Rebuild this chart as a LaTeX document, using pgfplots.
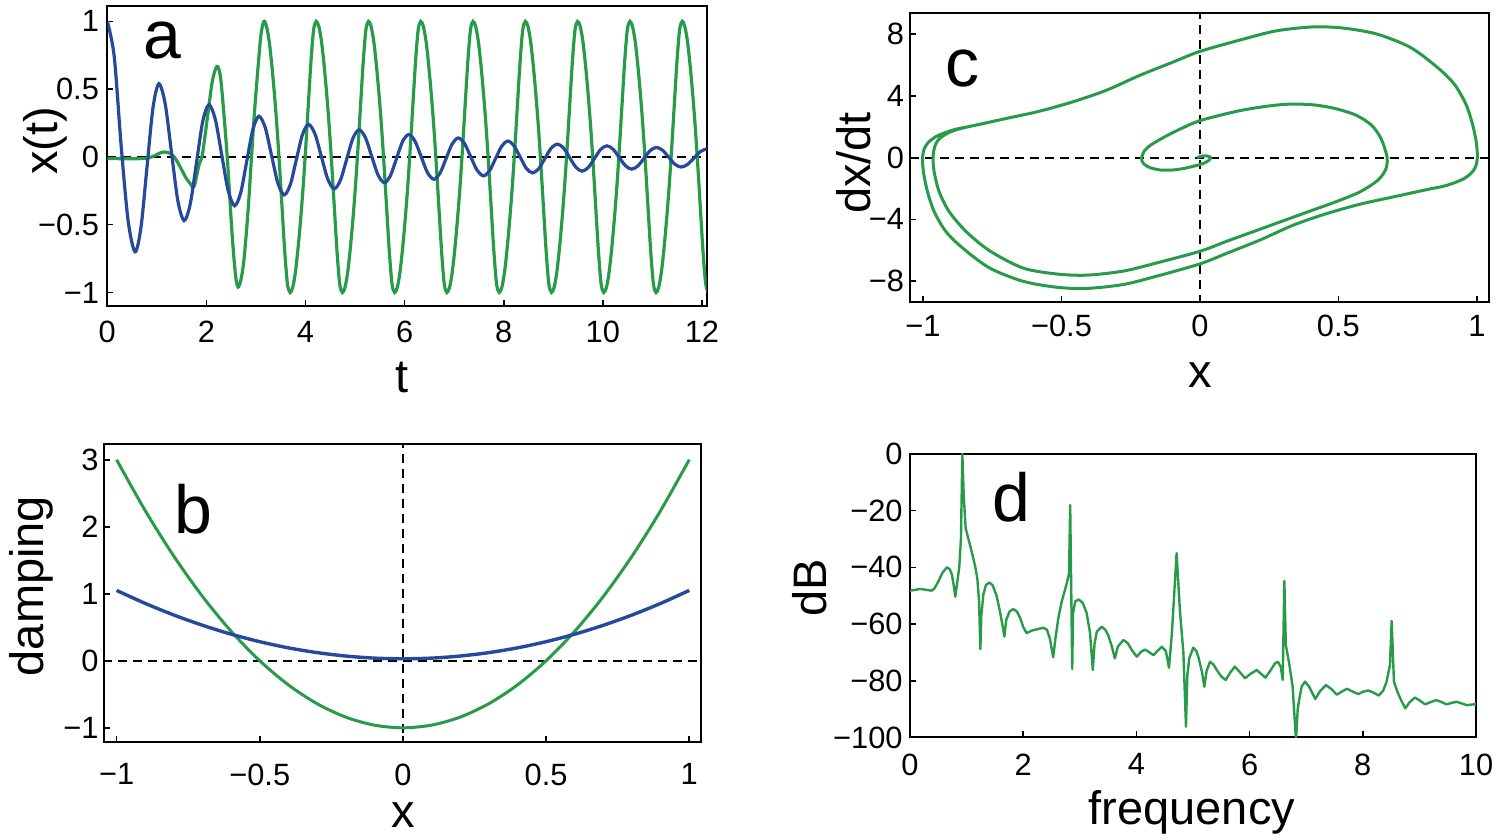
\documentclass[border=0pt]{standalone}
\usepackage{fontspec}
\setmainfont{Liberation Sans}
\usepackage{pgfplots}
\pgfplotsset{compat=1.18}
\definecolor{vgreen}{RGB}{40,155,75}
\definecolor{vblue}{RGB}{38,73,155}
\pgfplotsset{
 panel/.style={
   scale only axis,
   anchor=south west,
   axis line style={line width=1pt},
   tick align=inside,
   tickpos=left,
   major tick length=3pt,
   minor tick num=0,
   tick style={line width=0.8pt, black},
   tick label style={font=\fontsize{15.4}{18}\selectfont, inner sep=0pt},
   label style={font=\fontsize{23.5}{28}\selectfont, inner sep=0pt},
   clip=true,
 },
}
\tikzset{
 zline/.style={black, line width=0.9pt, dash pattern=on 4.5pt off 3pt},
 letter/.style={font=\fontsize{34}{40}\selectfont, anchor=base, inner sep=0pt},
}
\begin{document}
\begin{tikzpicture}
\path[use as bounding box] (0,0) rectangle (750pt,420pt);

% ---------------- panel a ----------------
\begin{axis}[panel, at={(53.65pt,267pt)}, width=299.7pt, height=149.75pt,
  xmin=0, xmax=12.095, ymin=-1.10, ymax=1.11,
  xtick={0,2,4,6,8,10,12}, xticklabels={0,2,4,6,8,10,12},
  ytick={-1,-0.5,0,0.5,1}, yticklabels={−1,−0.5,0,0.5,1},
  xticklabel shift=7.3pt, yticklabel shift=4pt,
  xlabel={t}, ylabel={x(t)},
  xlabel style={at={(axis description cs:0.4917,-0.240)}, anchor=center},
  ylabel style={at={(axis description cs:-0.104,0.551)}, anchor=center}]
\addplot[zline] coordinates {(0,0) (12.2,0)};
\addplot[vgreen, line width=1.6pt, smooth] coordinates {
(0,-0.012) (0.3,-0.013) (0.6,-0.013) (0.8,-0.01) (0.95,0.008) (1.07,0.03) (1.17,0.036) (1.27,0.025) (1.37,-0.01) (1.48,-0.08) (1.58,-0.15) (1.66,-0.19) (1.75,-0.218) (1.85,-0.06) (1.92,0.02) (2.02,0.29) (2.12,0.56) (2.21,0.667) (2.27,0.62) (2.32,0.46) (2.42,0.0) (2.52,-0.58) (2.59,-0.88) (2.64,-0.96) (2.70,-0.90) (2.76,-0.75) (2.84,-0.40) (2.91,0.0) (2.97,0.33) (3.03,0.61) (3.10,0.90) (3.16,1.0)
(3.213,0.963) (3.266,0.855) (3.318,0.684) (3.371,0.47) (3.424,0.22) (3.477,-0.075) (3.529,-0.39) (3.582,-0.705) (3.635,-0.938) (3.688,-1)
(3.741,-0.963) (3.794,-0.855) (3.846,-0.684) (3.899,-0.47) (3.952,-0.22) (4.005,0.075) (4.057,0.39) (4.110,0.705) (4.163,0.938) (4.215,1)
(4.268,0.963) (4.321,0.855) (4.373,0.684) (4.426,0.47) (4.479,0.22) (4.532,-0.075) (4.584,-0.39) (4.637,-0.705) (4.690,-0.938) (4.743,-1)
(4.796,-0.963) (4.849,-0.855) (4.901,-0.684) (4.954,-0.47) (5.007,-0.22) (5.060,0.075) (5.112,0.39) (5.165,0.705) (5.218,0.938) (5.270,1)
(5.323,0.963) (5.376,0.855) (5.428,0.684) (5.481,0.47) (5.534,0.22) (5.587,-0.075) (5.639,-0.39) (5.692,-0.705) (5.745,-0.938) (5.798,-1)
(5.851,-0.963) (5.904,-0.855) (5.956,-0.684) (6.009,-0.47) (6.062,-0.22) (6.115,0.075) (6.167,0.39) (6.220,0.705) (6.273,0.938) (6.325,1)
(6.378,0.963) (6.431,0.855) (6.483,0.684) (6.536,0.47) (6.589,0.22) (6.642,-0.075) (6.694,-0.39) (6.747,-0.705) (6.800,-0.938) (6.853,-1)
(6.906,-0.963) (6.959,-0.855) (7.011,-0.684) (7.064,-0.47) (7.117,-0.22) (7.170,0.075) (7.222,0.39) (7.275,0.705) (7.328,0.938) (7.380,1)
(7.433,0.963) (7.486,0.855) (7.538,0.684) (7.591,0.47) (7.644,0.22) (7.697,-0.075) (7.749,-0.39) (7.802,-0.705) (7.855,-0.938) (7.908,-1)
(7.961,-0.963) (8.014,-0.855) (8.066,-0.684) (8.119,-0.47) (8.172,-0.22) (8.225,0.075) (8.277,0.39) (8.330,0.705) (8.383,0.938) (8.435,1)
(8.488,0.963) (8.541,0.855) (8.593,0.684) (8.646,0.47) (8.699,0.22) (8.752,-0.075) (8.804,-0.39) (8.857,-0.705) (8.910,-0.938) (8.963,-1)
(9.016,-0.963) (9.069,-0.855) (9.121,-0.684) (9.174,-0.47) (9.227,-0.22) (9.280,0.075) (9.332,0.39) (9.385,0.705) (9.438,0.938) (9.490,1)
(9.543,0.963) (9.596,0.855) (9.648,0.684) (9.701,0.47) (9.754,0.22) (9.807,-0.075) (9.859,-0.39) (9.912,-0.705) (9.965,-0.938) (10.018,-1)
(10.071,-0.963) (10.124,-0.855) (10.176,-0.684) (10.229,-0.47) (10.282,-0.22) (10.335,0.075) (10.387,0.39) (10.440,0.705) (10.493,0.938) (10.545,1)
(10.598,0.963) (10.651,0.855) (10.703,0.684) (10.756,0.47) (10.809,0.22) (10.862,-0.075) (10.914,-0.39) (10.967,-0.705) (11.020,-0.938) (11.073,-1)
(11.126,-0.963) (11.179,-0.855) (11.231,-0.684) (11.284,-0.47) (11.337,-0.22) (11.390,0.075) (11.442,0.39) (11.495,0.705) (11.548,0.938) (11.600,1)
(11.653,0.963) (11.706,0.855) (11.758,0.684) (11.811,0.47) (11.864,0.22) (11.917,-0.075) (11.969,-0.39) (12.022,-0.705) (12.075,-0.938) (12.128,-1)
};
\addplot[vblue, line width=1.6pt, smooth] coordinates {
(0,1.0) (0.14,0.74) (0.28,0.08) (0.42,-0.47) (0.56,-0.70) (0.68,-0.518) (0.80,-0.08) (0.92,0.358) (1.04,0.54) (1.168,0.392) (1.295,0.035) (1.423,-0.322) (1.55,-0.47) (1.675,-0.345) (1.80,-0.043) (1.925,0.26) (2.05,0.385) (2.18,0.276) (2.31,0.013) (2.44,-0.251) (2.57,-0.36) (2.693,-0.263) (2.815,-0.03) (2.938,0.203) (3.06,0.30) (3.188,0.215) (3.315,0.01) (3.443,-0.195) (3.57,-0.28) (3.693,-0.204) (3.815,-0.02) (3.938,0.164) (4.06,0.24) (4.19,0.17) (4.32,0.003) (4.45,-0.165) (4.58,-0.235) (4.705,-0.171) (4.83,-0.018) (4.955,0.136) (5.08,0.20) (5.208,0.143) (5.335,0.005) (5.463,-0.133) (5.59,-0.19) (5.713,-0.138) (5.835,-0.013) (5.958,0.113) (6.08,0.165) (6.208,0.117) (6.335,0) (6.463,-0.117) (6.59,-0.165) (6.713,-0.12) (6.835,-0.013) (6.958,0.095) (7.08,0.14) (7.208,0.099) (7.335,0) (7.463,-0.099) (7.59,-0.14) (7.713,-0.102) (7.835,-0.012) (7.958,0.079) (8.08,0.117) (8.205,0.083) (8.33,0) (8.455,-0.084) (8.58,-0.118) (8.705,-0.087) (8.83,-0.012) (8.955,0.064) (9.08,0.095) (9.205,0.066) (9.33,-0.005) (9.455,-0.076) (9.58,-0.105) (9.705,-0.078) (9.83,-0.012) (9.955,0.055) (10.08,0.082) (10.205,0.057) (10.33,-0.004) (10.455,-0.065) (10.58,-0.09) (10.705,-0.067) (10.83,-0.01) (10.955,0.047) (11.08,0.07) (11.205,0.049) (11.33,-0.003) (11.455,-0.054) (11.58,-0.075) (11.71,-0.055) (11.84,-0.008) (11.97,0.04) (12.1,0.06)
};
\node[letter] at (axis description cs:0.0913,0.828) {a};
\end{axis}

% ---------------- panel c ----------------
\begin{axis}[panel, at={(455.15pt,269.15pt)}, width=289.35pt, height=144.5pt,
  xmin=-1.046, xmax=1.044, ymin=-9.34, ymax=9.4,
  xtick={-1,-0.5,0,0.5,1}, xticklabels={−1,−0.5,0,0.5,1},
  ytick={-8,-4,0,4,8}, yticklabels={−8,−4,0,4,8},
  xticklabel shift=6.7pt, yticklabel shift=3pt,
  xlabel={x}, ylabel={dx/dt},
  xlabel style={at={(axis description cs:0.5006,-0.2536)}, anchor=center},
  ylabel style={at={(axis description cs:-0.098,0.48)}, anchor=center}]
\addplot[zline] coordinates {(-1.1,0) (1.1,0)};
\addplot[zline] coordinates {(0,-9.5) (0,9.5)};
\addplot[vgreen, line width=1.5pt, smooth] coordinates {
(-0.010,0.00) (0.000,0.07) (0.015,0.12) (0.030,0.09) (0.038,0.00) (0.032,-0.18) (0.015,-0.35) (0.000,-0.45) (-0.058,-0.70) (-0.10,-0.80) (-0.143,-0.80) (-0.180,-0.65) (-0.203,-0.40) (-0.211,-0.05) (-0.200,0.45) (-0.175,0.85) (-0.119,1.43) (-0.06,1.95) (0.000,2.40) (0.126,2.98) (0.22,3.28) (0.31,3.46) (0.40,3.44) (0.48,3.22) (0.562,2.77) (0.62,2.1) (0.655,1.2) (0.676,0.0) (0.67,-0.8) (0.64,-1.5) (0.58,-2.2) (0.50,-2.8) (0.40,-3.45) (0.30,-4.1) (0.20,-4.75) (0.10,-5.4) (0.000,-6.07) (-0.157,-6.83) (-0.278,-7.36) (-0.41,-7.62) (-0.519,-7.54) (-0.64,-7.15) (-0.76,-6.03) (-0.845,-4.78) (-0.906,-3.49) (-0.942,-2.2) (-0.96,-0.9) (-0.964,0.0) (-0.958,0.7) (-0.945,1.15) (-0.92,1.5) (-0.89,1.75) (-0.85,1.95) (-0.78,2.22) (-0.70,2.54) (-0.58,3.01) (-0.459,3.62) (-0.338,4.37) (-0.217,5.34) (-0.097,6.2) (0.000,6.89) (0.157,7.69) (0.278,8.23) (0.41,8.48) (0.519,8.4) (0.64,8.01) (0.76,7.15) (0.857,5.86) (0.918,4.78) (0.96,3.49) (0.984,2.2) (0.998,1.0) (1.002,0.0) (0.995,-0.6) (0.98,-1.0) (0.955,-1.35) (0.92,-1.62) (0.88,-1.85) (0.82,-2.07) (0.70,-2.54) (0.58,-3.01) (0.459,-3.62) (0.338,-4.37) (0.217,-5.34) (0.097,-6.2) (0.000,-6.89) (-0.157,-7.69) (-0.278,-8.23) (-0.41,-8.48) (-0.519,-8.4) (-0.64,-8.01) (-0.76,-7.15) (-0.857,-5.86) (-0.918,-4.78) (-0.96,-3.49) (-0.984,-2.2) (-0.998,-1.0) (-1.002,0.0) (-0.995,0.6) (-0.98,1.0) (-0.955,1.35) (-0.92,1.62) (-0.88,1.85) (-0.82,2.07) (-0.70,2.54) (-0.58,3.01) (-0.459,3.62)
};
\node[letter] at (axis description cs:0.091,0.743) {c};
\end{axis}

% ---------------- panel b ----------------
\begin{axis}[panel, at={(52pt,48.85pt)}, width=298.35pt, height=149pt,
  xmin=-1.044, xmax=1.04, ymin=-1.216, ymax=3.23,
  xtick={-1,-0.5,0,0.5,1}, xticklabels={−1,−0.5,0,0.5,1},
  ytick={-1,0,1,2,3}, yticklabels={−1,0,1,2,3},
  xticklabel shift=10.5pt, yticklabel shift=2.5pt,
  xlabel={x}, ylabel={damping},
  xlabel style={at={(axis description cs:0.501,-0.244)}, anchor=center},
  ylabel style={at={(axis description cs:-0.1223,0.5245)}, anchor=center}]
\addplot[zline] coordinates {(-1.1,0) (1.1,0)};
\addplot[zline] coordinates {(0,-1.3) (0,3.3)};
\addplot[vgreen, line width=1.5pt, smooth] coordinates {
(-1,3) (-0.9,2.24) (-0.8,1.56) (-0.7,0.96) (-0.6,0.44) (-0.5,0) (-0.4,-0.36) (-0.3,-0.64) (-0.2,-0.84) (-0.1,-0.96) (0,-1) (0.1,-0.96) (0.2,-0.84) (0.3,-0.64) (0.4,-0.36) (0.5,0) (0.6,0.44) (0.7,0.96) (0.8,1.56) (0.9,2.24) (1,3)
};
\addplot[vblue, line width=1.7pt, smooth] coordinates {
(-1,1.05) (-0.9,0.856) (-0.8,0.683) (-0.7,0.530) (-0.6,0.397) (-0.5,0.285) (-0.4,0.193) (-0.3,0.122) (-0.2,0.071) (-0.1,0.040) (0,0.03) (0.1,0.040) (0.2,0.071) (0.3,0.122) (0.4,0.193) (0.5,0.285) (0.6,0.397) (0.7,0.530) (0.8,0.683) (0.9,0.856) (1,1.05)
};
\node[letter] at (axis description cs:0.149,0.702) {b};
\end{axis}

% ---------------- panel d ----------------
\begin{axis}[panel, at={(455pt,51.25pt)}, width=283pt, height=141.75pt,
  xmin=0, xmax=10, ymin=-100, ymax=0,
  xtick={0,2,4,6,8,10}, xticklabels={0,2,4,6,8,10},
  ytick={-100,-80,-60,-40,-20,0}, yticklabels={−100,−80,−60,−40,−20,0},
  xticklabel shift=7.9pt, yticklabel shift=3.5pt,
  xlabel={frequency}, ylabel={dB},
  xlabel style={at={(axis description cs:0.498,-0.263)}, anchor=center},
  ylabel style={at={(axis description cs:-0.1767,0.527)}, anchor=center}]
\addplot[vgreen, line width=1.2pt, line join=round] coordinates {
(0,-48.2) (0.1,-47.9) (0.18,-47.6) (0.28,-47.9) (0.38,-48.2) (0.43,-47.5) (0.50,-45.0) (0.57,-42.0) (0.65,-40.0) (0.70,-40.6) (0.74,-42.5) (0.77,-46.0) (0.80,-50.3) (0.83,-46.0) (0.87,-40.0) (0.90,-30.0) (0.925,0.0) (0.95,-15.0) (0.983,-26.2) (1.04,-30.5) (1.09,-34.5) (1.15,-39.5) (1.19,-44.0) (1.22,-52.0) (1.243,-68.8) (1.26,-57.0) (1.295,-49.7) (1.34,-46.3) (1.40,-45.3) (1.46,-46.3) (1.53,-50.0) (1.59,-55.6) (1.64,-61.0) (1.667,-64.4) (1.70,-58.5) (1.76,-55.5) (1.826,-54.7) (1.89,-55.6) (1.95,-58.0) (2.00,-61.0) (2.06,-63.2) (2.15,-62.3) (2.25,-61.8) (2.355,-61.3) (2.42,-62.0) (2.47,-65.0) (2.53,-71.7) (2.57,-65.0) (2.62,-58.0) (2.68,-52.1) (2.77,-45.6) (2.81,-42.1) (2.83,-18.0) (2.866,-75.8) (2.88,-56.2) (2.92,-52.0) (2.98,-51.3) (3.05,-52.5) (3.12,-56.0) (3.18,-63.0) (3.23,-76.2) (3.26,-67.0) (3.30,-62.7) (3.387,-60.9) (3.45,-62.0) (3.50,-63.8) (3.56,-67.5) (3.62,-72.1) (3.67,-68.0) (3.77,-65.6) (3.85,-66.8) (3.93,-69.5) (4.008,-71.5) (4.08,-69.8) (4.15,-69.0) (4.22,-69.8) (4.30,-71.0) (4.37,-69.5) (4.45,-68.0) (4.52,-69.5) (4.576,-75.4) (4.62,-65.0) (4.65,-55.6) (4.71,-35.0) (4.77,-55.6) (4.83,-70.0) (4.876,-96.2) (4.90,-78.0) (4.935,-72.0) (5.005,-68.3) (5.06,-69.5) (5.10,-72.0) (5.16,-77.0) (5.20,-82.1) (5.24,-76.5) (5.30,-73.3) (5.36,-74.2) (5.42,-76.2) (5.50,-78.5) (5.58,-79.7) (5.66,-77.0) (5.74,-75.0) (5.83,-77.0) (5.92,-79.1) (6.02,-77.5) (6.125,-76.2) (6.20,-77.5) (6.28,-78.9) (6.38,-76.0) (6.45,-73.8) (6.50,-73.3) (6.55,-75.0) (6.585,-79.7) (6.614,-44.8) (6.64,-67.4) (6.70,-74.0) (6.76,-82.0) (6.82,-101) (6.85,-90.0) (6.88,-86.2) (6.92,-82.0) (6.98,-80.3) (7.05,-82.0) (7.16,-86.4) (7.25,-83.5) (7.35,-81.5) (7.45,-83.0) (7.54,-84.9) (7.63,-83.8) (7.72,-82.8) (7.82,-83.8) (7.92,-84.7) (8.01,-83.8) (8.10,-83.4) (8.19,-84.2) (8.28,-85.2) (8.36,-83.5) (8.42,-80.3) (8.48,-74.4) (8.51,-58.9) (8.55,-80.3) (8.61,-83.8) (8.68,-87.0) (8.75,-89.7) (8.83,-87.5) (8.92,-85.9) (9.01,-87.0) (9.10,-88.3) (9.20,-87.5) (9.30,-86.8) (9.39,-87.5) (9.48,-88.3) (9.57,-87.8) (9.66,-87.4) (9.75,-88.0) (9.84,-88.6) (9.92,-88.4) (10.0,-88.2)
};
\node[letter] at (axis description cs:0.180,0.761) {d};
\end{axis}
\end{tikzpicture}
\end{document}
